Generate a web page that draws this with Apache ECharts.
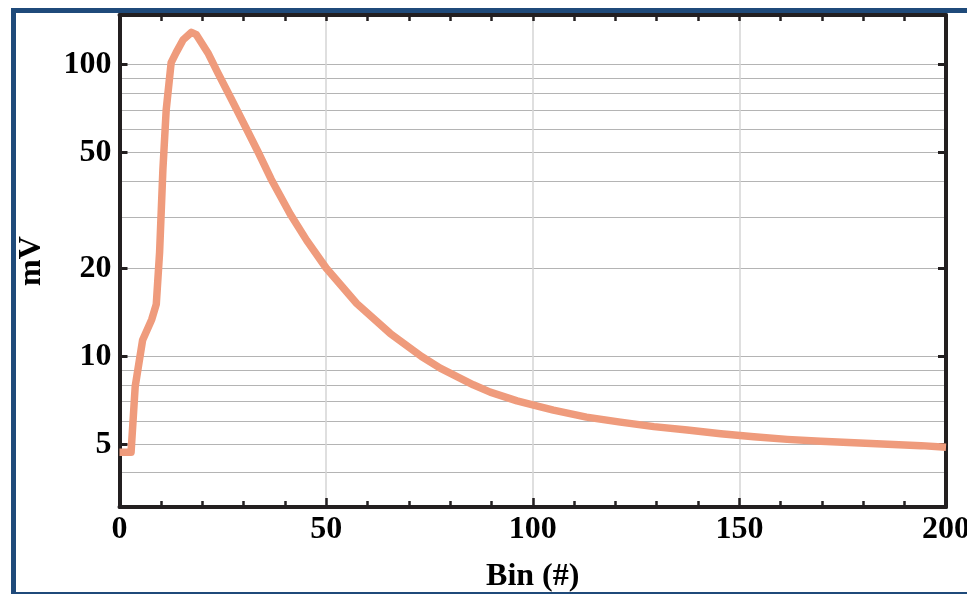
<!DOCTYPE html>
<html>
<head>
<meta charset="utf-8">
<script src="https://cdn.jsdelivr.net/npm/echarts@6/dist/echarts.min.js"></script>
<style>
html,body{margin:0;padding:0;background:#fff;}
#chart{width:967px;height:594px;}
</style>
</head>
<body>
<div id="chart"></div>
<script>
// ---- data ----
var bins = [0, 2.8, 3.8, 5.6, 7.8, 8.9, 9.7, 10.5, 11.3, 12.5, 13.7, 15.4, 17.4, 18.6, 21.4, 23.8, 26.9, 30.8, 33.6, 36.7, 41.3, 45.3, 50.0, 57.4, 65.5, 73.1, 77.6, 85.6, 89.7, 96.2, 101.4, 105, 113, 121.2, 129.3, 137.4, 145.5, 153.5, 161.6, 169.7, 177.8, 185.9, 194, 200];
var mV = [4.7, 4.7, 7.9, 11.4, 13.4, 15.1, 22.7, 43.7, 70, 101.6, 110, 121.8, 129, 126.7, 109.7, 93.7, 77, 60, 50, 40.5, 30.8, 25.0, 20.1, 15.2, 12.0, 10, 9.12, 8, 7.55, 7.05, 6.75, 6.55, 6.2, 5.96, 5.75, 5.6, 5.44, 5.31, 5.2, 5.12, 5.06, 5.0, 4.95, 4.89];
var yLabelValues = [5, 10, 20, 50, 100];
var yGridValues = [4, 5, 6, 7, 8, 9, 10, 20, 30, 40, 50, 60, 70, 80, 90, 100];
var xTitle = 'Bin (#)';
var yTitle = 'mV';

var points = bins.map(function (b, i) { return [b, mV[i]]; });

var INK = '#231f20';
var FONT = 'Liberation Serif';
var FS = 32;
var yMin = 3.05, yMax = 148;

var chart = echarts.init(document.getElementById('chart'));
var baseY = {
  type: 'log', logBase: 10, min: yMin, max: yMax, gridIndex: 0
};
chart.setOption({
  animation: false,
  backgroundColor: '#fff',
  grid: { left: 119.5, right: 21, top: 15, bottom: 87, containLabel: false, outerBoundsMode: 'none' },
  graphic: [{
    type: 'rect', silent: true, z: 100,
    shape: { x: 13.5, y: 10.5, width: 1000, height: 584 },
    style: { fill: null, stroke: '#1f4a7a', lineWidth: 5 }
  }],
  xAxis: [{
    type: 'value', position: 'bottom', min: 0, max: 200, interval: 50,
    name: xTitle, nameLocation: 'middle', nameGap: 54,
    nameTextStyle: { fontFamily: FONT, fontWeight: 'bold', fontSize: FS, color: '#000' },
    axisLine: { show: true, onZero: false, lineStyle: { color: INK, width: 4 } },
    axisTick: { show: true, inside: true, length: 9, lineStyle: { color: INK, width: 2.5 } },
    minorTick: { show: true, splitNumber: 5, length: 6, lineStyle: { color: INK, width: 2.5 } },
    splitLine: { show: true, lineStyle: { color: '#d4d4d4', width: 1.5 } },
    axisLabel: { margin: 7, fontFamily: FONT, fontWeight: 'bold', fontSize: FS, color: '#000' }
  }, {
    type: 'value', position: 'top', min: 0, max: 200, interval: 50,
    axisLine: { show: true, onZero: false, lineStyle: { color: INK, width: 4 } },
    axisTick: { show: true, inside: true, length: 6, lineStyle: { color: INK, width: 2.5 } },
    minorTick: { show: true, splitNumber: 5, length: 6, lineStyle: { color: INK, width: 2.5 } },
    splitLine: { show: false },
    axisLabel: { show: false }
  }],
  yAxis: [Object.assign({}, baseY, {
    position: 'left',
    name: yTitle, nameLocation: 'middle', nameGap: 72, nameRotate: 90,
    nameTextStyle: { fontFamily: FONT, fontWeight: 'bold', fontSize: FS, color: '#000' },
    axisLine: { show: true, lineStyle: { color: INK, width: 4 } },
    axisTick: { show: false, customValues: yGridValues },
    minorTick: { show: false },
    splitLine: { show: true, lineStyle: { color: '#b4b4b4', width: 1 } },
    axisLabel: { customValues: yLabelValues, margin: 8, fontFamily: FONT, fontWeight: 'bold', fontSize: FS, color: '#000' }
  }), Object.assign({}, baseY, {
    position: 'left',
    axisLine: { show: false },
    axisTick: { show: true, inside: true, length: 8, customValues: yLabelValues, lineStyle: { color: INK, width: 3 } },
    splitLine: { show: false },
    axisLabel: { show: false }
  }), Object.assign({}, baseY, {
    position: 'right',
    axisLine: { show: true, lineStyle: { color: INK, width: 4 } },
    axisTick: { show: true, inside: true, length: 8, customValues: yLabelValues, lineStyle: { color: INK, width: 3 } },
    splitLine: { show: false },
    axisLabel: { show: false }
  })],
  series: [{
    type: 'line', xAxisIndex: 0, yAxisIndex: 0, z: 5,
    data: points, showSymbol: false, symbol: 'none', smooth: false,
    lineStyle: { color: '#ef9b7c', width: 7.5, join: 'round', cap: 'butt' }
  }]
});
</script>
</body>
</html>
